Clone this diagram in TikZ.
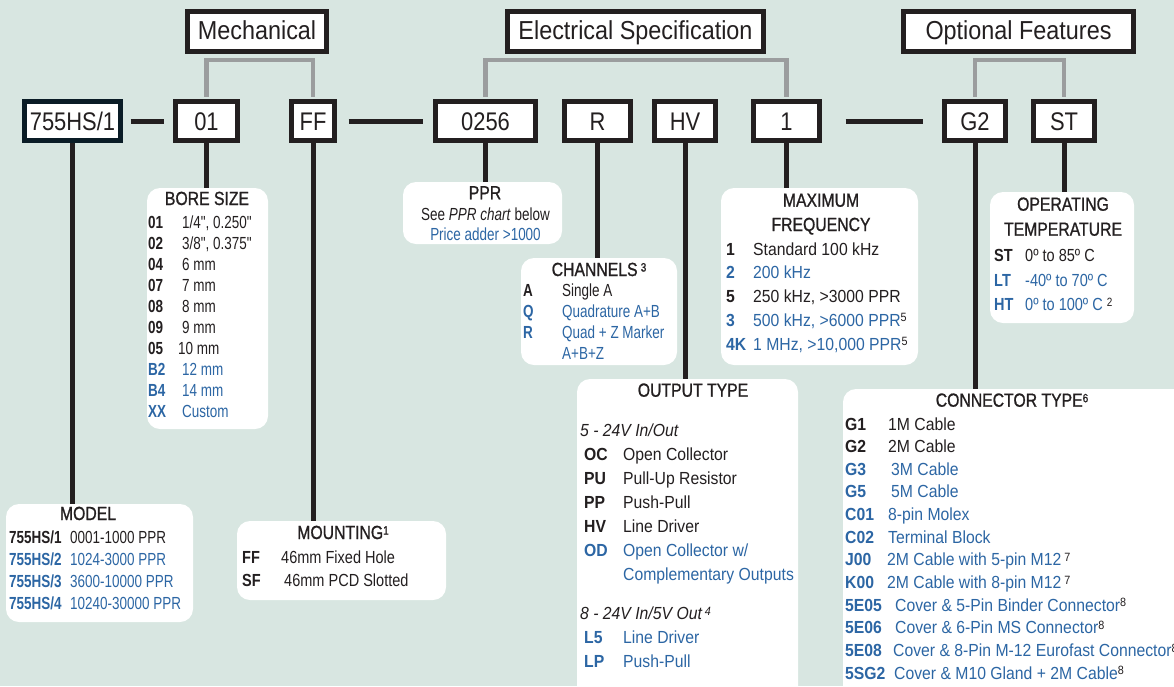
\documentclass[tikz,border=0pt]{standalone}
\usepackage{fontspec}
\setmainfont{Liberation Sans}
\newfontfamily\fHead{Liberation Sans}[FakeStretch=0.9]
\newfontfamily\fCode{Liberation Sans}[FakeStretch=0.86]
\newfontfamily\fTitle{Liberation Sans}[FakeStretch=0.83,FakeBold=1]
\newfontfamily\fN{Liberation Sans}[FakeStretch=0.77]
\newfontfamily\fM{Liberation Sans}[FakeStretch=0.83]
\newfontfamily\fW{Liberation Sans}[FakeStretch=0.9]
\usetikzlibrary{calc}

\definecolor{bg}{RGB}{216,230,225}
\definecolor{ink}{RGB}{35,31,32}
\definecolor{blu}{RGB}{44,102,164}
\definecolor{gry}{RGB}{155,157,158}
\definecolor{navy}{RGB}{10,28,38}

\newcommand\bl{\leavevmode\color{blu}}
\newcommand\sups[1]{\raisebox{4.5pt}{\fontsize{12}{12}\selectfont\color{ink}#1}}

\tikzset{
  head/.style={draw=ink, line width=5pt, fill=white, inner sep=0pt,
    minimum height=40pt, text height=18pt, text depth=2.4pt,
    font=\fHead\fontsize{26}{30}\selectfont},
  code/.style={draw=ink, line width=5pt, fill=white, inner sep=0pt,
    minimum height=39pt, text height=19pt, text depth=1pt,
    font=\fCode\fontsize{25.5}{30}\selectfont},
  panel/.style={fill=white, rounded corners=13pt, inner sep=0pt, outer sep=0pt, anchor=north west},
  ttl/.style={anchor=base, inner sep=0pt, font=\fTitle\fontsize{19}{23}\selectfont},
  tbl/.style={anchor=base west, inner sep=0pt},
  grey link/.style={draw=gry, line width=4.5pt, shorten <=2.5pt, shorten >=2.5pt},
  link/.style={draw=ink, line width=5pt},
}

\begin{document}
\begin{tikzpicture}[x=1pt,y=-1pt,color=ink]
\useasboundingbox (0,0) rectangle (1174,686);
\fill[bg] (0,0) rectangle (1174,686);

% group headings
\node[head, minimum width=139pt] (mech) at (257,31.5) {Mechanical};
\node[head, minimum width=256pt] (elec) at (635.5,31.5) {Electrical Specification};
\node[head, minimum width=230pt] (opt) at (1018.5,31.5) {Optional Features};

% ordering code fields
\node[code, draw=navy, minimum width=96pt] (cModel) at (72.5,121) {755HS/1};
\node[code, minimum width=62pt] (cBore) at (206.5,121) {01};
\node[code, minimum width=43pt] (cMount) at (313,121) {FF};
\node[code, minimum width=100pt] (cPPR) at (485.5,121) {0256};
\node[code, minimum width=66pt] (cChan) at (597.5,121) {R};
\node[code, minimum width=61pt] (cOut) at (685,121) {HV};
\node[code, minimum width=66pt] (cFreq) at (786.5,121) {1};
\node[code, minimum width=61pt] (cConn) at (975,121) {G2};
\node[code, minimum width=61pt] (cTemp) at (1064,121) {ST};

% brackets from the headings
\draw[grey link] (cBore.north) |- ($(mech.south)+(0,6)$) -| (cMount.north);
\draw[grey link] (cPPR.north) |- ($(elec.south)+(0,6)$) -| (cFreq.north);
\draw[grey link] (cConn.north) |- ($(opt.south)+(0,6)$) -| (cTemp.north);

% dashes between the fields
\draw[link, shorten <=7.5pt, shorten >=9.5pt] (cModel.east) -- (cBore.west);
\draw[link, shorten <=11.5pt, shorten >=10.5pt] (cMount.east) -- (cPPR.west);
\draw[link, shorten <=23.5pt, shorten >=19.5pt] (cFreq.east) -- (cConn.west);

% option panels
\node[panel, minimum width=121pt, minimum height=241pt] (bore) at (147,188) {};
\node[panel, minimum width=159pt, minimum height=62pt] (ppr) at (403,182) {};
\node[panel, minimum width=156pt, minimum height=107pt] (chan) at (521,258) {};
\node[panel, minimum width=197pt, minimum height=177pt] (freq) at (721,188) {};
\node[panel, minimum width=144pt, minimum height=131pt] (temp) at (990,192) {};
\node[panel, minimum width=187pt, minimum height=118pt] (model) at (6,504) {};
\node[panel, minimum width=209pt, minimum height=79pt] (mount) at (237,521) {};
\node[panel, minimum width=221pt, minimum height=330pt] (out) at (577,379) {};
\node[panel, minimum width=350pt, minimum height=320pt] (conn) at (843,389) {};

% leaders from fields to panels
\draw[link] (cModel.south) -- (cModel.south |- model.north);
\draw[link] (cBore.south) -- (cBore.south |- bore.north);
\draw[link] (cMount.south) -- (cMount.south |- mount.north);
\draw[link] (cPPR.south) -- (cPPR.south |- ppr.north);
\draw[link] (cChan.south) -- (cChan.south |- chan.north);
\draw[link] (cOut.south) -- (cOut.south |- out.north);
\draw[link] (cFreq.south) -- (cFreq.south |- freq.north);
\draw[link] (cConn.south) -- (cConn.south |- conn.north);
\draw[link] (cTemp.south) -- (cTemp.south |- temp.north);

% BORE SIZE
\node[ttl] (boreT) at (207,205) {BORE SIZE};
\node[tbl, font=\fN\fontsize{17.5}{21}\selectfont] (boreL) at (148,228.3) {%
\begin{tabular}[t]{@{}p{34pt}@{}l@{}}
\textbf{01} & 1/4", 0.250"\\
\textbf{02} & 3/8", 0.375"\\
\textbf{04} & 6 mm\\
\textbf{07} & 7 mm\\
\textbf{08} & 8 mm\\
\textbf{09} & 9 mm\\
\textbf{05} & \hspace{-4pt}10 mm\\
\bl\textbf{B2} & \bl 12 mm\\
\bl\textbf{B4} & \bl 14 mm\\
\bl\textbf{XX} & \bl Custom
\end{tabular}};

% MODEL
\node[ttl] (modelT) at (88,520) {MODEL};
\node[tbl, font=\fN\fontsize{17.5}{22.3}\selectfont] (modelL) at (9,543) {%
\begin{tabular}[t]{@{}p{61pt}@{}l@{}}
\textbf{755HS/1} & 0001-1000 PPR\\
\bl\textbf{755HS/2} & \bl 1024-3000 PPR\\
\bl\textbf{755HS/3} & \bl 3600-10000 PPR\\
\bl\textbf{755HS/4} & \bl 10240-30000 PPR
\end{tabular}};

% MOUNTING
\node[ttl] (mountT) at (343,539) {MOUNTING\sups{1}};
\node[tbl, font=\fM\fontsize{17.5}{23.4}\selectfont] (mountL) at (242,563.3) {%
\begin{tabular}[t]{@{}p{39pt}@{}l@{}}
\textbf{FF} & 46mm Fixed Hole\\
\textbf{SF} & \hspace{3pt}46mm PCD Slotted
\end{tabular}};

% PPR
\node[ttl] (pprT) at (485,199.3) {PPR};
\node[anchor=base, inner sep=0pt, font=\fN\fontsize{17.5}{20.7}\selectfont] (pprL) at (485.5,220) {%
\begin{tabular}[t]{@{}c@{}}
See \textit{PPR chart} below\\
\bl Price adder >1000
\end{tabular}};

% CHANNELS
\node[ttl] (chanT) at (599,276) {CHANNELS\,\sups{3}};
\node[tbl, font=\fN\fontsize{17.5}{21.1}\selectfont] (chanL) at (523,296) {%
\begin{tabular}[t]{@{}p{39pt}@{}l@{}}
\textbf{A} & Single A\\
\bl\textbf{Q} & \bl Quadrature A+B\\
\bl\textbf{R} & \bl Quad + Z Marker\\
 & \bl A+B+Z
\end{tabular}};

% MAXIMUM FREQUENCY
\node[anchor=base, inner sep=0pt, font=\fTitle\fontsize{19}{24.3}\selectfont] (freqT) at (821,206.7) {%
\begin{tabular}[t]{@{}c@{}}MAXIMUM\\FREQUENCY\end{tabular}};
\node[tbl, font=\fW\fontsize{17.5}{23.75}\selectfont] (freqL) at (726,255) {%
\begin{tabular}[t]{@{}p{27pt}@{}l@{}}
\textbf{1} & Standard 100 kHz\\
\bl\textbf{2} & \bl 200 kHz\\
\textbf{5} & 250 kHz, >3000 PPR\\
\bl\textbf{3} & \bl 500 kHz, >6000 PPR\sups{5}\\
\bl\textbf{4K} & \bl 1 MHz, >10,000 PPR\sups{5}
\end{tabular}};

% OPERATING TEMPERATURE
\node[anchor=base, inner sep=0pt, font=\fTitle\fontsize{19}{25}\selectfont] (tempT) at (1063,210.7) {%
\begin{tabular}[t]{@{}c@{}}OPERATING\\TEMPERATURE\end{tabular}};
\node[tbl, font=\fM\fontsize{17.5}{24.6}\selectfont] (tempL) at (994,261.7) {%
\begin{tabular}[t]{@{}p{31pt}@{}l@{}}
\textbf{ST} & 0º to 85º C\\
\bl\textbf{LT} & \bl -40º to 70º C\\
\bl\textbf{HT} & \bl 0º to 100º C \sups{2}
\end{tabular}};

% OUTPUT TYPE
\node[ttl] (outT) at (693,396.7) {OUTPUT TYPE};
\node[tbl, font=\fW\fontsize{17.5}{24.1}\selectfont] (outL) at (584,436) {%
\begin{tabular}[t]{@{}p{39pt}@{}l@{}}
\multicolumn{2}{@{}l@{}}{\hspace{-4pt}\itshape 5 - 24V In/Out}\\
\textbf{OC} & Open Collector\\
\textbf{PU} & Pull-Up Resistor\\
\textbf{PP} & Push-Pull\\
\textbf{HV} & Line Driver\\
\bl\textbf{OD} & \bl Open Collector w/\\
 & \bl Complementary Outputs\\[15pt]
\multicolumn{2}{@{}l@{}}{\hspace{-4pt}\itshape 8 - 24V In/5V Out\,\sups{4}}\\
\bl\textbf{L5} & \bl Line Driver\\
\bl\textbf{LP} & \bl Push-Pull
\end{tabular}};

% CONNECTOR TYPE
\node[ttl] (connT) at (1012,406.7) {CONNECTOR TYPE\sups{6}};
\node[tbl, font=\fW\fontsize{17.5}{22.66}\selectfont] (connL) at (845,430) {%
\begin{tabular}[t]{@{}p{43pt}@{}l@{}}
\textbf{G1} & 1M Cable\\
\textbf{G2} & 2M Cable\\
\bl\textbf{G3} & \bl\hspace{3pt}3M Cable\\
\bl\textbf{G5} & \bl\hspace{3pt}5M Cable\\
\bl\textbf{C01} & \bl 8-pin Molex\\
\bl\textbf{C02} & \bl Terminal Block\\
\bl\textbf{J00} & \bl\hspace{-1pt}2M Cable with 5-pin M12\,\sups{7}\\
\bl\textbf{K00} & \bl\hspace{-1pt}2M Cable with 8-pin M12\,\sups{7}\\
\bl\textbf{5E05} & \bl\hspace{7pt}Cover \& 5-Pin Binder Connector\sups{8}\\
\bl\textbf{5E06} & \bl\hspace{7pt}Cover \& 6-Pin MS Connector\sups{8}\\
\bl\textbf{5E08} & \bl\hspace{5pt}Cover \& 8-Pin M-12 Eurofast Connector\sups{8}\\
\bl\textbf{5SG2} & \bl\hspace{6pt}Cover \& M10 Gland + 2M Cable\sups{8}
\end{tabular}};
\end{tikzpicture}
\end{document}
